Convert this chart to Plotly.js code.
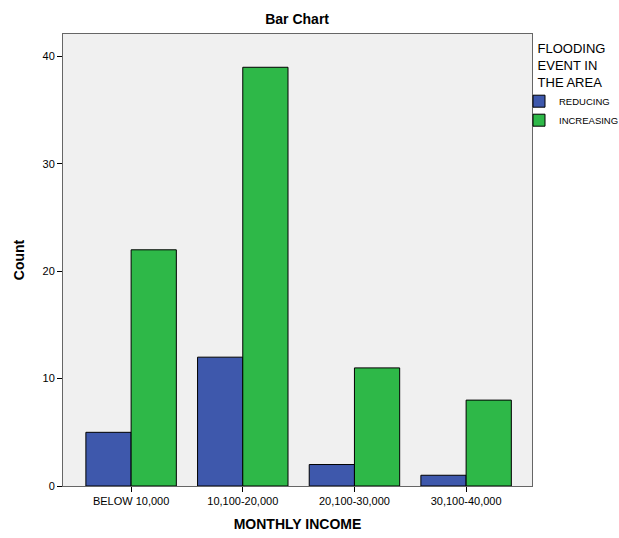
<!DOCTYPE html>
<html><head><meta charset="utf-8">
<script src="https://cdn.plot.ly/plotly-3.0.1.min.js"></script>
<style>body{margin:0;background:#fff}#c{width:619px;height:538px}</style>
</head><body><div id="c"></div>
<script>
const categories = ["BELOW 10,000", "10,100-20,000", "20,100-30,000", "30,100-40,000"];
const reducing = [5, 12, 2, 1];
const increasing = [22, 39, 11, 8];
const seriesNames = ["REDUCING", "INCREASING"];
const yTicks = [0, 10, 20, 30, 40];

const font = {family: "Liberation Sans, Arial, sans-serif", color: "#000", size: 11};
const traces = [
  {type: "bar", name: seriesNames[0], x: categories, y: reducing,
   marker: {color: "#3e58ac", line: {color: "#000", width: 1}}},
  {type: "bar", name: seriesNames[1], x: categories, y: increasing,
   marker: {color: "#2eb848", line: {color: "#000", width: 1}}}
];
const layout = {
  width: 619, height: 538,
  margin: {l: 63, r: 87, t: 34, b: 52, autoexpand: false},
  paper_bgcolor: "#fff", plot_bgcolor: "#f0f0f0",
  font: font,
  barmode: "group", bargap: 0.19, bargroupgap: 0,
  showlegend: true,
  title: {text: "<b>Bar Chart</b>", x: 0.48, xanchor: "center", y: 0.965, yanchor: "middle",
          font: {family: font.family, size: 14, color: "#000"}},
  xaxis: {type: "category", range: [-0.61, 3.59], showgrid: false, zeroline: false,
          ticks: "outside", ticklen: 5, tickcolor: "#000", tickwidth: 1,
          showline: true, linecolor: "#666", linewidth: 1, mirror: true,
          tickfont: {size: 11},
          title: {text: "<b>MONTHLY INCOME</b>", font: {size: 14}, standoff: 12}},
  yaxis: {range: [0, 42.1], tickvals: yTicks, showgrid: false, zeroline: false,
          ticks: "outside", ticklen: 5, tickcolor: "#000", tickwidth: 1,
          showline: true, linecolor: "#666", linewidth: 1, mirror: true,
          tickfont: {size: 11},
          title: {text: "<b>Count</b>", font: {size: 14}, standoff: 14}},
  legend: {xref: "container", yref: "container", x: 519/619, xanchor: "left",
           y: 1 - 36/538, yanchor: "top",
           bgcolor: "rgba(0,0,0,0)", tracegroupgap: 0, itemwidth: 30,
           font: {size: 9.5, family: "Liberation Sans, Arial, sans-serif"},
           title: {text: "FLOODING<br>EVENT IN<br>THE AREA", side: "top center",
                   font: {size: 13, family: "Liberation Sans, Arial, sans-serif"}}}
};
Plotly.newPlot("c", traces, layout, {displayModeBar: false, staticPlot: true});
</script></body></html>
